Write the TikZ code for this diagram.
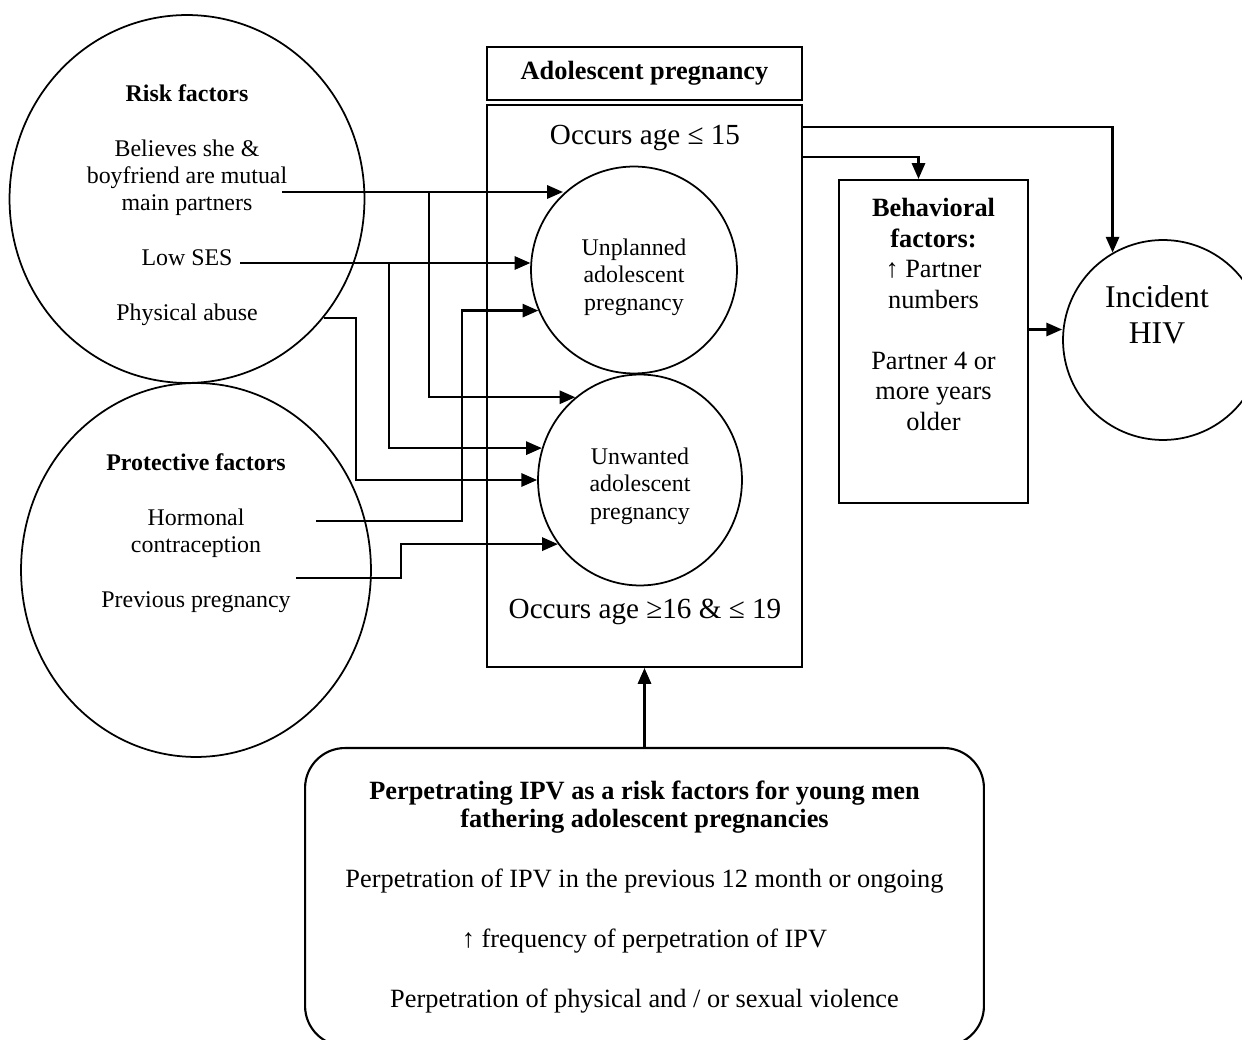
\documentclass[tikz,border=0pt]{standalone}
\usepackage{fontspec}
\setmainfont{Liberation Serif}
\usetikzlibrary{shapes.geometric,arrows.meta,calc,positioning}

\begin{document}
\begin{tikzpicture}[x=0.02cm, y=-0.02cm,
  arr/.style={line width=1.4pt, -{Triangle[length=9pt,width=7.5pt]}},
  circ/.style={draw, line width=1pt, ellipse, inner sep=0pt},
  box/.style={draw, line width=1.2pt, inner sep=0pt, align=center},
  txt/.style={align=center, font=\fontsize{13.6}{15.6}\selectfont}]
\useasboundingbox (0,0) rectangle (1242,1040);

\node[circ, minimum width=7.1cm, minimum height=7.36cm] (risk) at (187,199) {};
\node[txt] (risktxt) at (187,205) {\textbf{Risk factors}\\[15.6pt] Believes she \&\\boyfriend are mutual\\main partners\\[15.6pt] Low SES\\[15.6pt] Physical abuse};
\node[circ, minimum width=7cm, minimum height=7.48cm] (prot) at (196,570) {};
\node[txt] (prottxt) at (196,533) {\textbf{Protective factors}\\[15.6pt] Hormonal\\contraception\\[15.6pt] Previous pregnancy};

\node[box, minimum width=6.3cm, minimum height=1.06cm, font=\bfseries\fontsize{15}{17}\selectfont] (pregtitle) at (644.5,73.5) {Adolescent pregnancy};
\node[box, minimum width=6.3cm, minimum height=11.24cm] (preg) at (644.5,386) {};
\node[font=\fontsize{16.6}{19}\selectfont] (early) at (645,138) {Occurs age ≤ 15};
\node[font=\fontsize{16.6}{19}\selectfont] (late) at (645,612) {Occurs age ≥16 \& ≤ 19};
\node[circ, minimum width=4.12cm, minimum height=4.14cm] (unpl) at (634,270) {};
\node[txt] (unpltxt) at (634,277) {Unplanned\\adolescent\\pregnancy};
\node[circ, minimum width=4.08cm, minimum height=4.22cm] (unw) at (640,480) {};
\node[txt] (unwtxt) at (640,486) {Unwanted\\adolescent\\pregnancy};

\node[box, minimum width=3.78cm, minimum height=6.46cm] (behav) at (933.5,341.5) {};
\node[align=center, font=\fontsize{15}{17.4}\selectfont] (behavtxt) at (933.5,314.5) {\textbf{Behavioral}\\\textbf{factors:}\\↑ Partner\\numbers\\[17.4pt] Partner 4 or\\more years\\older};
\node[circ, minimum size=4cm] (hiv) at (1163,340) {};
\node[align=center, font=\fontsize{18}{20.5}\selectfont] (hivtxt) at (1157,315) {Incident\\HIV};

\node[box, rounded corners=0.8cm, minimum width=13.58cm, minimum height=5.96cm, font=\fontsize{15}{16}\selectfont] (ipv) at (644.5,897) {\textbf{Perpetrating IPV as a risk factors for young men}\\\textbf{fathering adolescent pregnancies}\\[18pt] Perpetration of IPV in the previous 12 month or ongoing\\[18pt] ↑ frequency of perpetration of IPV\\[18pt] Perpetration of physical and / or sexual violence};

\coordinate (believes) at (282,192);
\coordinate (j1) at (429,192);
\coordinate (ses) at (240,263);
\coordinate (j2) at (389,263);
\coordinate (j3) at (356,480);
\coordinate (horm) at (316,521);
\coordinate (j4) at (462,521);
\coordinate (prev) at (296,578);
\coordinate (j5) at (401,578);
\coordinate (b1) at ($(behav.east)+(0,-12)$);

\draw[arr] (believes) -- (believes -| unpl.133);
\draw[arr] (j1) |- (unw.128);
\draw[arr] (ses) -- (ses -| unpl.176);
\draw[arr] (j2) |- (unw.162);
\draw[arr] (risk.-41) -| (j3) -- (unw.west);
\draw[arr] (horm) -- (j4) |- (unpl.203);
\draw[arr] (prev) -- (j5) |- (unw.218);

\draw[arr] (preg.north east) ++(0,23) -| (hiv.120);
\draw[arr] (preg.north east) ++(0,53) -| ($(behav.north)+(-15,0)$);
\draw[arr] (b1) -- (b1 -| hiv.west);
\draw[arr] (ipv.north) -- (preg.south);
\end{tikzpicture}
\end{document}
